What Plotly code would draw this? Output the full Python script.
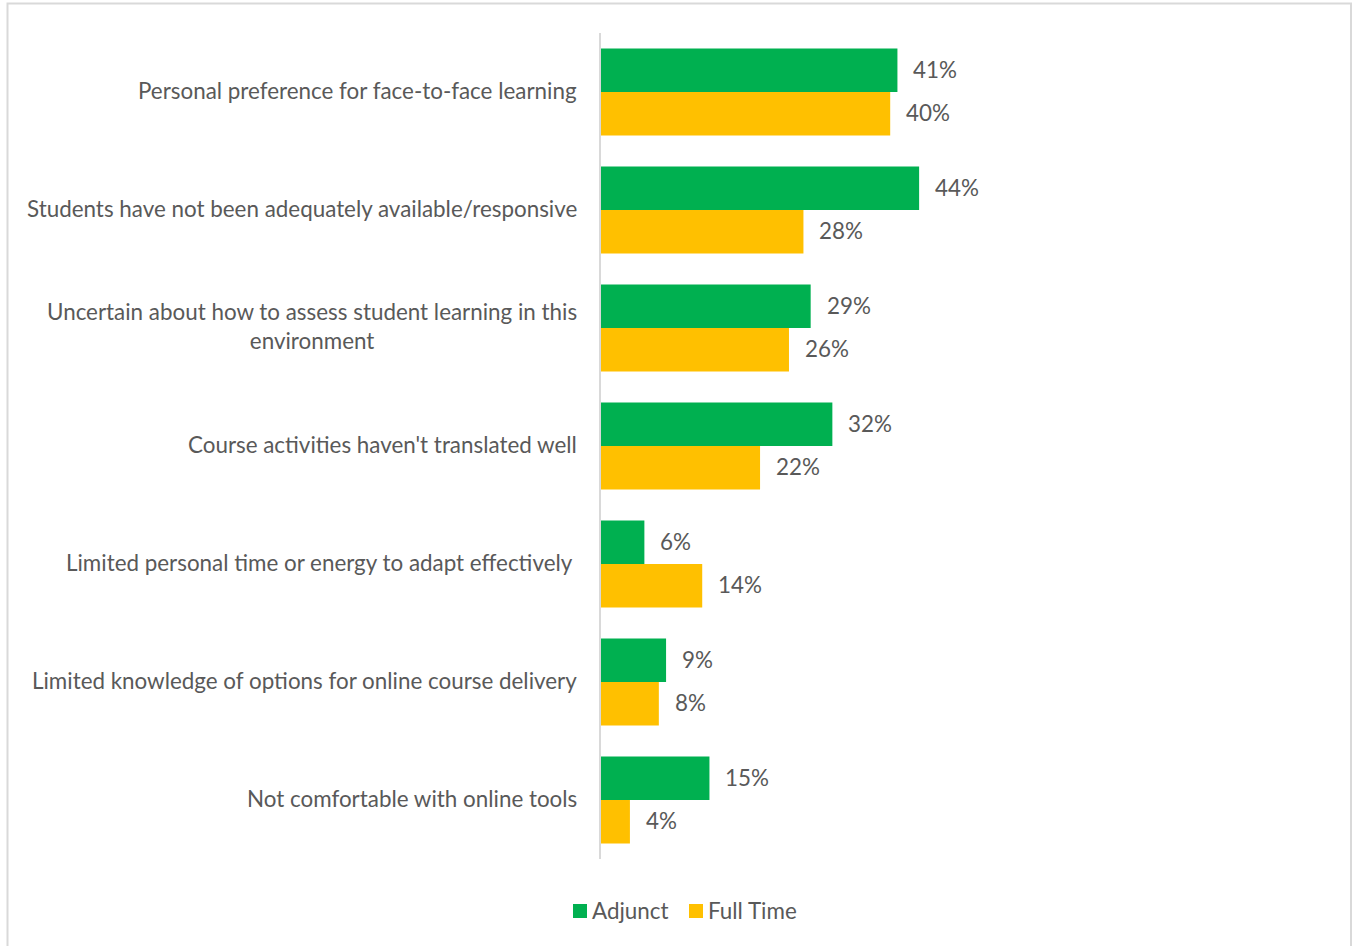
import plotly.graph_objects as go

# Survey results: reasons instructors found remote teaching difficult
categories = [
    "Personal preference for face-to-face learning",
    "Students have not been adequately available/responsive",
    "Uncertain about how to assess student learning in this<br>environment",
    "Course activities haven't translated well",
    "Limited personal time or energy to adapt effectively\u00a0",
    "Limited knowledge of options for online course delivery",
    "Not comfortable with online tools",
]
adjunct = [41, 44, 29, 32, 6, 9, 15]
full_time = [40, 28, 26, 22, 14, 8, 4]
series_names = ["Adjunct", "Full Time"]

GREEN = "#00B050"
GOLD = "#FFC000"
TEXT = "#595959"
FONT = "Lato"
FS = 22.4

W, H = 1353, 946
L, R, T, B = 601, 13, 33, 87
px_per_pct = 7.23
plot_w = W - L - R
plot_h = H - T - B
x_max = plot_w / px_per_pct


def px(xp):
    return (xp - L) / plot_w


def py(yp):
    return (H - B - yp) / plot_h


fig = go.Figure()
fig.add_trace(go.Bar(name=series_names[0], y=categories, x=adjunct, orientation="h",
                     marker=dict(color=GREEN, line=dict(width=0)), showlegend=False))
fig.add_trace(go.Bar(name=series_names[1], y=categories, x=full_time, orientation="h",
                     marker=dict(color=GOLD, line=dict(width=0)), showlegend=False))

annotations = []
# category labels: lines centred, block right-aligned against the axis
for c in categories:
    annotations.append(dict(x=0, xref="paper", y=c, yref="y", text=c,
                            xanchor="right", yanchor="middle", align="center",
                            xshift=-22, yshift=2, showarrow=False,
                            font=dict(family=FONT, size=FS, color=TEXT)))
# value labels beside each bar
bar_half = 21.75
for c, a, f in zip(categories, adjunct, full_time):
    annotations.append(dict(x=a, y=c, text=f"{a}%", xanchor="left", yanchor="middle",
                            xshift=14, yshift=bar_half + 1, showarrow=False,
                            font=dict(family=FONT, size=FS, color=TEXT)))
    annotations.append(dict(x=f, y=c, text=f"{f}%", xanchor="left", yanchor="middle",
                            xshift=14, yshift=-bar_half + 1, showarrow=False,
                            font=dict(family=FONT, size=FS, color=TEXT)))

# legend: colour swatch followed by series name
shapes = []
legend_items = [(series_names[0], GREEN, 573), (series_names[1], GOLD, 689)]
for name, color, x0 in legend_items:
    shapes.append(dict(type="rect", xref="paper", yref="paper",
                       x0=px(x0), x1=px(x0 + 14), y0=py(918), y1=py(904),
                       line=dict(width=0), fillcolor=color))
    annotations.append(dict(x=px(x0 + 17), xref="paper", y=py(910), yref="paper",
                            text=name, xanchor="left", yanchor="middle",
                            showarrow=False,
                            font=dict(family=FONT, size=FS, color=TEXT)))

# chart border
shapes.append(dict(type="rect", xref="paper", yref="paper",
                   x0=px(7.5), x1=px(1351), y0=py(952), y1=py(3.5),
                   line=dict(color="#D9D9D9", width=2), fillcolor="rgba(0,0,0,0)",
                   layer="below"))

fig.update_layout(
    width=W, height=H,
    margin=dict(l=L, r=R, t=T, b=B),
    barmode="group", bargap=0.263, bargroupgap=0,
    plot_bgcolor="white", paper_bgcolor="white",
    font=dict(family=FONT, size=FS, color=TEXT),
    showlegend=False,
    xaxis=dict(range=[0, x_max], visible=False, showgrid=False, zeroline=False),
    yaxis=dict(autorange="reversed", showticklabels=False, ticks="",
               showline=True, linecolor="#D9D9D9", linewidth=2,
               showgrid=False, zeroline=False),
    annotations=annotations,
    shapes=shapes,
)

fig.write_html("out.html")
